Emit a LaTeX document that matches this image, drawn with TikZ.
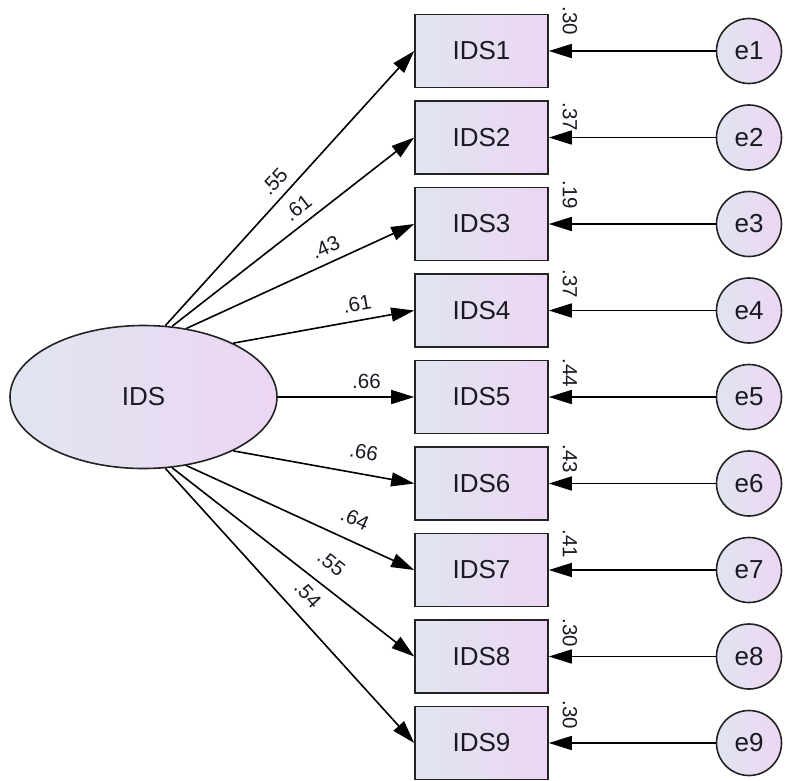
\documentclass[tikz,border=0pt]{standalone}
\usepackage{fontspec}
\setmainfont{Liberation Sans}
\usetikzlibrary{arrows.meta,shapes.geometric}
\definecolor{fillL}{RGB}{224,229,240}
\definecolor{fillR}{RGB}{236,214,243}
\definecolor{txt}{RGB}{25,25,35}
\definecolor{edge}{RGB}{35,35,35}
\begin{document}
\begin{tikzpicture}[x=1pt,y=-1pt,
  obs/.style={draw=edge, line width=1.6pt, rectangle, minimum width=133pt, minimum height=73pt, inner sep=0pt, left color=fillL, right color=fillR, font=\fontsize{26}{30}\selectfont, text=txt},
  err/.style={draw=edge, line width=1.6pt, circle, minimum size=65pt, inner sep=0pt, left color=fillL, right color=fillR, font=\fontsize{26}{30}\selectfont, text=txt},
  lat/.style={draw=edge, line width=1.6pt, ellipse, minimum width=267pt, minimum height=143pt, inner sep=0pt, left color=fillL, right color=fillR, font=\fontsize{26}{30}\selectfont, text=txt},
  arr/.style={-{Triangle[length=23pt,width=14pt]}, line width=1.6pt, draw=black},
  lab/.style={sloped, above=8pt, inner sep=0pt, font=\fontsize{20.5}{24}\selectfont, text=txt},
  varlab/.style={rotate=-90, inner sep=0pt, font=\fontsize{20.5}{24}\selectfont, text=txt}]
\useasboundingbox (0,0) rectangle (787,780);

\node[lat] (IDS) at (143.5,397) {IDS};

\node[obs] (IDS1) at (481.5,51) {IDS1};
\node[obs] (IDS2) at (481.5,137.5) {IDS2};
\node[obs] (IDS3) at (481.5,224) {IDS3};
\node[obs] (IDS4) at (481.5,310.5) {IDS4};
\node[obs] (IDS5) at (481.5,397) {IDS5};
\node[obs] (IDS6) at (481.5,483.5) {IDS6};
\node[obs] (IDS7) at (481.5,570) {IDS7};
\node[obs] (IDS8) at (481.5,656.5) {IDS8};
\node[obs] (IDS9) at (481.5,743) {IDS9};

\node[err] (e1) at (749,51) {e1};
\node[err] (e2) at (749,137.5) {e2};
\node[err] (e3) at (749,224) {e3};
\node[err] (e4) at (749,310.5) {e4};
\node[err] (e5) at (749,397) {e5};
\node[err] (e6) at (749,483.5) {e6};
\node[err] (e7) at (749,570) {e7};
\node[err] (e8) at (749,656.5) {e8};
\node[err] (e9) at (749,743) {e9};

\draw[arr] (IDS.73) -- (IDS1.west) node[lab, pos=0.485] (l1) {.55};
\draw[arr] (IDS.68) -- (IDS2.west) node[lab, pos=0.56] (l2) {.61};
\draw[arr] (IDS.58) -- (IDS3.west) node[lab, pos=0.64] (l3) {.43};
\draw[arr] (IDS.31) -- (IDS4.west) node[lab, pos=0.70] (l4) {.61};
\draw[arr] (IDS.east) -- (IDS5.west) node[lab, pos=0.65] (l5) {.66};
\draw[arr] (IDS.-31) -- (IDS6.west) node[lab, pos=0.70, above=6pt] (l6) {.66};
\draw[arr] (IDS.-58) -- (IDS7.west) node[lab, pos=0.70, above=6pt] (l7) {.64};
\draw[arr] (IDS.-68) -- (IDS8.west) node[lab, pos=0.60, above=7pt] (l8) {.55};
\draw[arr] (IDS.-73) -- (IDS9.west) node[lab, pos=0.51, above=5pt] (l9) {.54};

\draw[arr] (e1) -- (IDS1.east);
\draw[arr] (e2) -- (IDS2.east);
\draw[arr] (e3) -- (IDS3.east);
\draw[arr] (e4) -- (IDS4.east);
\draw[arr] (e5) -- (IDS5.east);
\draw[arr] (e6) -- (IDS6.east);
\draw[arr] (e7) -- (IDS7.east);
\draw[arr] (e8) -- (IDS8.east);
\draw[arr] (e9) -- (IDS9.east);

\node[varlab] (v1) at (570,21) {.30};
\node[varlab] (v2) at (570,117) {.37};
\node[varlab] (v3) at (570,195) {.19};
\node[varlab] (v4) at (570,284) {.37};
\node[varlab] (v5) at (570,373) {.44};
\node[varlab] (v6) at (570,459) {.43};
\node[varlab] (v7) at (570,544) {.41};
\node[varlab] (v8) at (570,633) {.30};
\node[varlab] (v9) at (570,715) {.30};
\end{tikzpicture}
\end{document}
